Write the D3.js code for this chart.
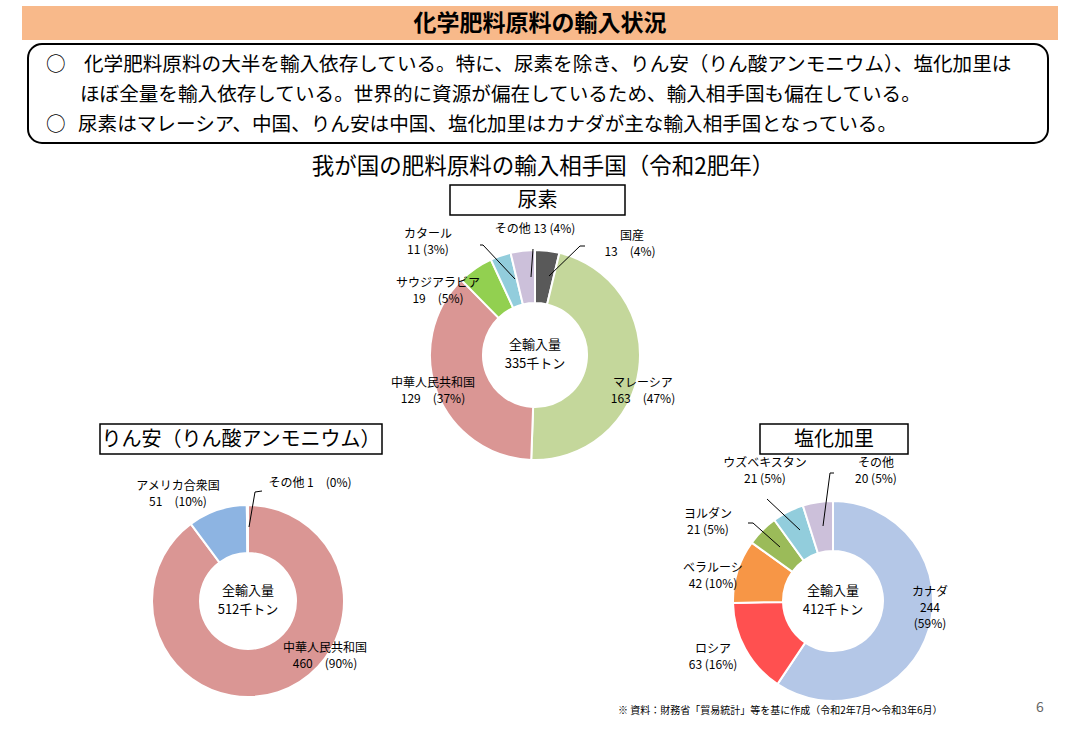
<!DOCTYPE html><html><head><meta charset="utf-8"><script src="https://cdn.jsdelivr.net/npm/d3@7"></script>
<style>body{margin:0;background:#fff;font-family:"Noto Sans CJK JP","Noto Sans",sans-serif}</style></head><body>
<svg id="c" width="1082" height="745"></svg>
<script>
const ureaNames=["国産","マレーシア","中華人民共和国","サウジアラビア","カタール","その他"];
const ureaValues=[13,163,129,19,11,13];
const ureaPct=["4%","47%","37%","5%","3%","4%"];
const ureaColors=["#595959","#c4d79b","#da9694","#92d050","#92cddc","#ccc0da"];
const rinNames=["中華人民共和国","アメリカ合衆国","その他"];
const rinValues=[460,51,1];
const rinPct=["90%","10%","0%"];
const rinColors=["#da9694","#8db4e2","#ccc0da"];
const potNames=["カナダ","ロシア","ベラルーシ","ヨルダン","ウズベキスタン","その他"];
const potValues=[244,63,42,21,21,20];
const potPct=["59%","16%","10%","5%","5%","5%"];
const potColors=["#b4c7e7","#ff5050","#f79646","#9bbb59","#92cddc","#ccc0da"];

const svg=d3.select("#c");
const F='"Noto Sans CJK JP",sans-serif';
svg.append("rect").attr("x",22).attr("y",6).attr("width",1036).attr("height",34).attr("fill","#f8b98a");
svg.append("text").attr("x",540).attr("y",31).attr("text-anchor","middle").attr("font-size",23).attr("font-weight","bold").attr("font-family",F).text("化学肥料原料の輸入状況");
svg.append("rect").attr("x",28).attr("y",44).attr("width",1020).attr("height",99).attr("rx",14).attr("fill","none").attr("stroke","#000").attr("stroke-width",2);
const lines=[[46,71,"○"],[84,71,"化学肥料原料の大半を輸入依存している。特に、尿素を除き、りん安（りん酸アンモニウム）、塩化加里は"],[80,101,"ほぼ全量を輸入依存している。世界的に資源が偏在しているため、輸入相手国も偏在している。"],[46,131,"○"],[78,131,"尿素はマレーシア、中国、りん安は中国、塩化加里はカナダが主な輸入相手国となっている。"]];
lines.forEach(l=>svg.append("text").attr("x",l[0]).attr("y",l[1]).attr("font-size",19.6).attr("font-family",F).text(l[2]));
svg.append("text").attr("x",543).attr("y",174).attr("text-anchor","middle").attr("font-size",22.5).attr("font-family",F).text("我が国の肥料原料の輸入相手国（令和2肥年）");

function titleBox(x,y,w,h,t){svg.append("rect").attr("x",x).attr("y",y).attr("width",w).attr("height",h).attr("fill","#fff").attr("stroke","#000").attr("stroke-width",1.5);
 svg.append("text").attr("x",x+w/2).attr("y",y+h/2+7).attr("text-anchor","middle").attr("font-size",20).attr("font-family",F).text(t);}
titleBox(450,185,175,30,"尿素");
titleBox(100,424,282,30,"りん安（りん酸アンモニウム）");
titleBox(760,424,148,30,"塩化加里");

function donut(cx,cy,ro,ri,vals,cols,total,labels,leaders){
 const g=svg.append("g").attr("transform",`translate(${cx},${cy})`);
 const pie=d3.pie().sort(null)(vals);
 const arc=d3.arc().innerRadius(ri).outerRadius(ro);
 g.selectAll("path").data(pie).join("path").attr("d",arc).attr("fill",(d,i)=>cols[i]).attr("stroke","#fff").attr("stroke-width",2);
 g.append("text").attr("y",-6).attr("text-anchor","middle").attr("font-size",13).attr("font-family",F).text("全輸入量");
 g.append("text").attr("y",13).attr("text-anchor","middle").attr("font-size",13).attr("font-family",F).text(total+"千トン");
 labels.forEach(l=>{l.lines.forEach((t,k)=>svg.append("text").attr("x",l.x).attr("y",l.y+k*16).attr("text-anchor",l.a||"middle").attr("font-size",12).attr("font-family",F).text(t));});
 leaders.forEach(p=>svg.append("path").attr("d",d3.line()(p)).attr("fill","none").attr("stroke","#000").attr("stroke-width",1));
}
donut(535,355,105,52,ureaValues,ureaColors,335,[
 {x:632,y:240,lines:["国産"]},{x:630,y:256,lines:["13　("+ureaPct[0]+")"]},
 {x:643,y:387,lines:["マレーシア","163　("+ureaPct[1]+")"]},
 {x:433,y:387,lines:["中華人民共和国","129　("+ureaPct[2]+")"]},
 {x:438,y:287,lines:["サウジアラビア","19　("+ureaPct[3]+")"]},
 {x:428,y:238,lines:["カタール","11 ("+ureaPct[4]+")"]},
 {x:535,y:233,lines:["その他 13 ("+ureaPct[5]+")"]}],
 [[[585,246],[580,246],[549,276]],[[480,245],[483,245],[515,279]],[[533,249],[531,277]]]);
donut(248,601,96,48,rinValues,rinColors,512,[
 {x:325,y:652,lines:["中華人民共和国","460　("+rinPct[0]+")"]},
 {x:178,y:490,lines:["アメリカ合衆国","51　("+rinPct[1]+")"]},
 {x:310,y:487,lines:["その他 1　("+rinPct[2]+")"]}],
 [[[262,491],[255,492],[249,527]]]);
donut(833,601,100,50,potValues,potColors,412,[
 {x:930,y:596,lines:["カナダ","244","("+potPct[0]+")"]},
 {x:713,y:653,lines:["ロシア","63 ("+potPct[1]+")"]},
 {x:713,y:572,lines:["ベラルーシ","42 ("+potPct[2]+")"]},
 {x:708,y:518,lines:["ヨルダン","21 ("+potPct[3]+")"]},
 {x:765,y:467,lines:["ウズベキスタン","21 ("+potPct[4]+")"]},
 {x:876,y:467,lines:["その他","20 ("+potPct[5]+")"]}],
 [[[748,523],[753,523],[780,547]],[[767,499],[800,530]],[[834,473],[830,473],[823,526]]]);
svg.append("text").attr("x",618).attr("y",714).attr("font-size",10).attr("font-family",F).text("※ 資料：財務省「貿易統計」等を基に作成（令和2年7月～令和3年6月）");
svg.append("text").attr("x",1040).attr("y",712).attr("text-anchor","middle").attr("font-size",14).attr("fill","#666").attr("font-family",F).text("6");
</script></body></html>
